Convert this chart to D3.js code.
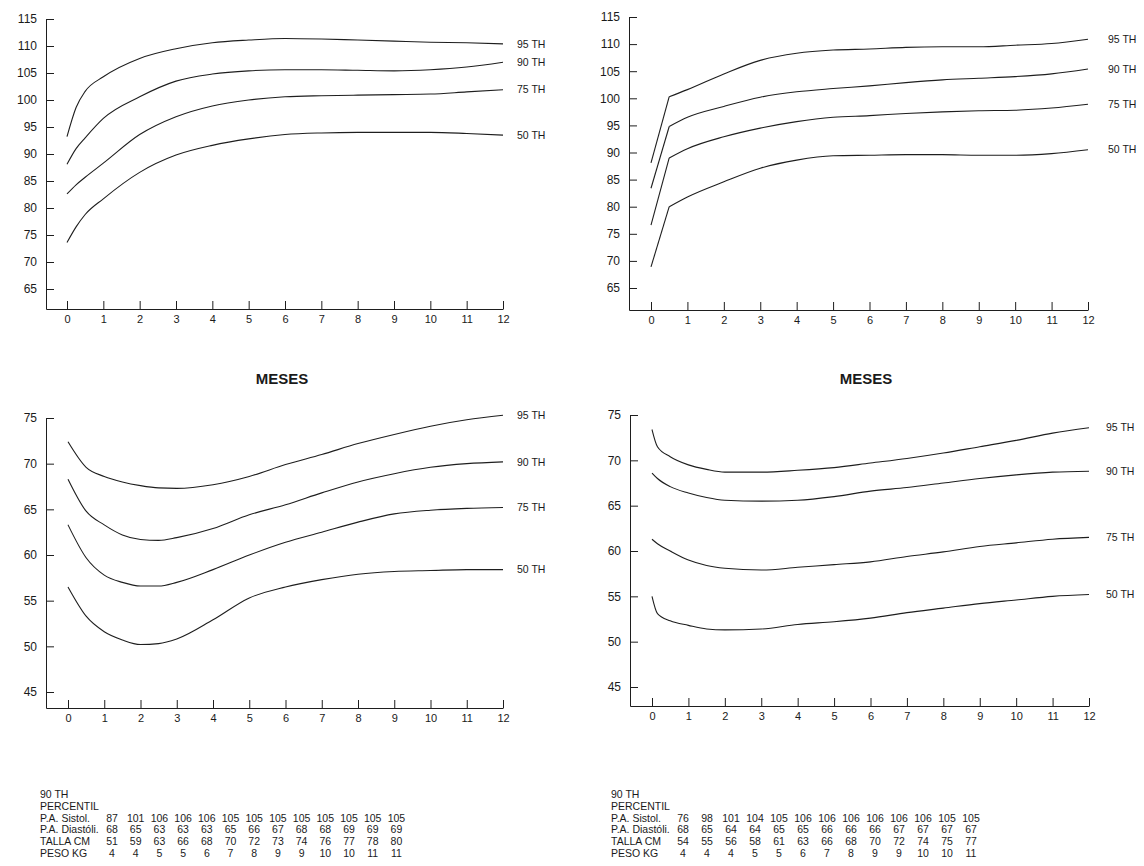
<!DOCTYPE html>
<html>
<head>
<meta charset="utf-8">
<script src="https://cdn.jsdelivr.net/npm/d3@7"></script>
<style>
  html, body { margin: 0; padding: 0; background: #fff; }
  svg { display: block; }
  text { font-family: "Liberation Sans", Arial, sans-serif; fill: #1a1a1a; }
</style>
</head>
<body>
<svg id="chart" width="1144" height="866"></svg>
<script>
// percentile labels, same for every panel
const percentiles = ['95 TH', '90 TH', '75 TH', '50 TH'];

// top left: systolic
const monthsTL = [0, 0.25, 0.5, 1, 2, 3, 4, 5, 6, 7, 8, 9, 10, 11, 12];
const sysL95 = [93.2, 98.6, 101.6, 104.3, 107.7, 109.5, 110.6, 111.1, 111.4, 111.3, 111.1, 110.9, 110.7, 110.6, 110.4];
const sysL90 = [88.1, 91.0, 93.0, 96.6, 100.6, 103.5, 104.8, 105.4, 105.6, 105.6, 105.5, 105.4, 105.6, 106.1, 107.0];
const sysL75 = [82.6, 84.3, 85.7, 88.3, 93.6, 96.9, 98.9, 100.0, 100.6, 100.8, 100.9, 101.0, 101.1, 101.5, 101.9];
const sysL50 = [73.6, 76.5, 78.8, 81.7, 86.6, 89.8, 91.6, 92.8, 93.6, 93.9, 94.0, 94.0, 94.0, 93.8, 93.5];

// top right: systolic (sharp rise until half a month)
const monthsTR = [0, 0.5, 1, 2, 3, 4, 5, 6, 7, 8, 9, 10, 11, 12];
const sysR95 = [88.1, 100.3, 101.6, 104.5, 107.0, 108.3, 108.9, 109.1, 109.4, 109.5, 109.5, 109.8, 110.1, 110.9];
const sysR90 = [83.4, 94.8, 96.5, 98.5, 100.2, 101.2, 101.8, 102.3, 102.9, 103.4, 103.7, 104.0, 104.5, 105.4];
const sysR75 = [76.6, 89.0, 90.7, 92.9, 94.5, 95.7, 96.5, 96.8, 97.2, 97.5, 97.7, 97.8, 98.2, 98.9];
const sysR50 = [68.9, 80.0, 81.8, 84.6, 87.1, 88.6, 89.4, 89.5, 89.6, 89.6, 89.5, 89.5, 89.8, 90.5];

// bottom left: diastolic
const monthsBL = [0, 0.5, 1, 1.5, 2, 2.5, 3, 4, 5, 6, 7, 8, 9, 10, 11, 12];
const diaL95 = [72.4, 69.6, 68.6, 68.0, 67.6, 67.35, 67.3, 67.7, 68.6, 69.9, 71.0, 72.2, 73.2, 74.1, 74.8, 75.3];
const diaL90 = [68.3, 64.8, 63.3, 62.2, 61.7, 61.6, 61.9, 62.9, 64.4, 65.5, 66.8, 68.0, 68.9, 69.6, 70.0, 70.2];
const diaL75 = [63.3, 59.7, 57.8, 57.0, 56.6, 56.6, 57.0, 58.4, 60.0, 61.4, 62.5, 63.6, 64.5, 64.9, 65.1, 65.2];
const diaL50 = [56.5, 53.3, 51.6, 50.7, 50.2, 50.3, 50.8, 52.9, 55.3, 56.5, 57.3, 57.9, 58.2, 58.3, 58.4, 58.4];

// bottom right: diastolic
const monthsBR = [0, 0.15, 0.5, 1, 1.5, 2, 3, 4, 5, 6, 7, 8, 9, 10, 11, 12];
const diaR95 = [73.4, 71.5, 70.4, 69.5, 69.0, 68.7, 68.7, 68.9, 69.2, 69.7, 70.2, 70.8, 71.5, 72.2, 73.0, 73.6];
const diaR90 = [68.6, 68.0, 67.1, 66.4, 65.9, 65.6, 65.5, 65.6, 66.0, 66.6, 67.0, 67.5, 68.0, 68.4, 68.7, 68.8];
const diaR75 = [61.3, 60.8, 60.0, 59.0, 58.4, 58.1, 57.9, 58.2, 58.5, 58.8, 59.4, 59.9, 60.5, 60.9, 61.3, 61.5];
const diaR50 = [55.0, 53.1, 52.3, 51.8, 51.4, 51.3, 51.4, 51.9, 52.2, 52.6, 53.2, 53.7, 54.2, 54.6, 55.0, 55.2];

const monthTicks = d3.range(0, 13);
const sysTicks = [65, 70, 75, 80, 85, 90, 95, 100, 105, 110, 115];
const diaTicks = [45, 50, 55, 60, 65, 70, 75];

// tables under the charts
const rowLabels = ['P.A. Sistol.', 'P.A. Diastóli.', 'TALLA CM', 'PESO KG'];
const tabL = [
  [87, 101, 106, 106, 106, 105, 105, 105, 105, 105, 105, 105, 105],
  [68, 65, 63, 63, 63, 65, 66, 67, 68, 68, 69, 69, 69],
  [51, 59, 63, 66, 68, 70, 72, 73, 74, 76, 77, 78, 80],
  [4, 4, 5, 5, 6, 7, 8, 9, 9, 10, 10, 11, 11]
];
const tabR = [
  [76, 98, 101, 104, 105, 106, 106, 106, 106, 106, 106, 105, 105],
  [68, 65, 64, 64, 65, 65, 66, 66, 66, 67, 67, 67, 67],
  [54, 55, 56, 58, 61, 63, 66, 68, 70, 72, 74, 75, 77],
  [4, 4, 4, 5, 5, 6, 7, 8, 9, 9, 10, 10, 11]
];

// panel layout (pixels)
const panels = [
  { months: monthsTL, series: [sysL95, sysL90, sysL75, sysL50], ticks: sysTicks,
    axisX: 46, x0: 67, x12: 503, vLo: 65, vHi: 115, pLo: 289, pHi: 19, bottom: 309, labelDx: 14, kink: 0 },
  { months: monthsTR, series: [sysR95, sysR90, sysR75, sysR50], ticks: sysTicks,
    axisX: 629, x0: 651, x12: 1088, vLo: 65, vHi: 115, pLo: 288, pHi: 17, bottom: 310, labelDx: 20, kink: 1 },
  { months: monthsBL, series: [diaL95, diaL90, diaL75, diaL50], ticks: diaTicks,
    axisX: 46, x0: 68, x12: 503, vLo: 45, vHi: 75, pLo: 692, pHi: 418, bottom: 708, labelDx: 14, kink: 0 },
  { months: monthsBR, series: [diaR95, diaR90, diaR75, diaR50], ticks: diaTicks,
    axisX: 630, x0: 652, x12: 1089, vLo: 45, vHi: 75, pLo: 687, pHi: 415, bottom: 706, labelDx: 17, kink: 0 }
];

const svg = d3.select('#chart');
const ink = '#1e1e1e';

panels.forEach(p => {
  const x = d3.scaleLinear().domain([0, 12]).range([p.x0, p.x12]);
  const y = d3.scaleLinear().domain([p.vLo, p.vHi]).range([p.pLo, p.pHi]);
  const g = svg.append('g');

  // y axis runs from the top tick down to the x axis
  const yAx = d3.scaleLinear().domain([y.invert(p.bottom), p.vHi]).range([p.bottom, p.pHi]);
  g.append('g')
    .attr('transform', `translate(${p.axisX},0)`)
    .call(d3.axisLeft(yAx).tickValues(p.ticks).tickSizeInner(-8).tickSizeOuter(0).tickPadding(9))
    .call(a => a.selectAll('line,path').attr('stroke', ink))
    .call(a => a.selectAll('text').attr('font-size', 12).attr('fill', ink)
      .attr('font-family', '"Liberation Sans", Arial, sans-serif'));

  // x axis starts at the y axis
  const xAx = d3.scaleLinear().domain([x.invert(p.axisX), 12]).range([p.axisX, p.x12]);
  g.append('g')
    .attr('transform', `translate(0,${p.bottom})`)
    .call(d3.axisBottom(xAx).tickValues(monthTicks).tickSizeInner(-8).tickSizeOuter(0).tickPadding(6))
    .call(a => a.selectAll('line,path').attr('stroke', ink))
    .call(a => a.selectAll('text').attr('font-size', 11).attr('fill', ink)
      .attr('font-family', '"Liberation Sans", Arial, sans-serif'));

  const line = d3.line().x(d => x(d[0])).y(d => y(d[1])).curve(d3.curveMonotoneX);
  const straight = d3.line().x(d => x(d[0])).y(d => y(d[1]));

  p.series.forEach((vals, i) => {
    const pts = p.months.map((m, k) => [m, vals[k]]);
    if (p.kink) {
      g.append('path').attr('d', straight(pts.slice(0, p.kink + 1)))
        .attr('fill', 'none').attr('stroke', ink).attr('stroke-width', 1.1);
      g.append('path').attr('d', line(pts.slice(p.kink)))
        .attr('fill', 'none').attr('stroke', ink).attr('stroke-width', 1.1);
    } else {
      g.append('path').attr('d', line(pts))
        .attr('fill', 'none').attr('stroke', ink).attr('stroke-width', 1.1);
    }
    const last = pts[pts.length - 1];
    g.append('text')
      .attr('x', x(12) + p.labelDx)
      .attr('y', y(last[1]))
      .attr('dy', '0.35em')
      .attr('font-size', 10.5)
      .text(percentiles[i]);
  });
});

// axis titles between the rows
[282, 866].forEach(cx => {
  svg.append('text')
    .attr('x', cx).attr('y', 384)
    .attr('text-anchor', 'middle')
    .attr('font-size', 15).attr('font-weight', 'bold')
    .text('MESES');
});

// tables
function drawTable(rows, left, col0, colStep) {
  const g = svg.append('g').attr('font-size', 10.5);
  const top = 798;
  const step = 11.8;
  g.append('text').attr('x', left).attr('y', top).text('90  TH');
  g.append('text').attr('x', left).attr('y', top + step).text('PERCENTIL');
  rows.forEach((vals, r) => {
    const yy = top + step * (r + 2);
    g.append('text').attr('x', left).attr('y', yy).text(rowLabels[r]);
    vals.forEach((v, c) => {
      g.append('text').attr('x', col0 + c * colStep).attr('y', yy)
        .attr('text-anchor', 'middle').text(v);
    });
  });
}
drawTable(tabL, 40, 112, 23.7);
drawTable(tabR, 611, 683, 24);
</script>
</body>
</html>
